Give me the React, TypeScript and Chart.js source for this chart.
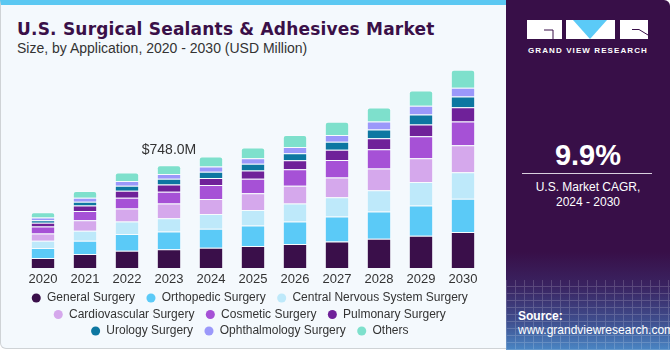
import React, { useEffect, useRef } from "react";
import { Chart, registerables } from "chart.js";

Chart.register(...registerables);

const years = ["2020", "2021", "2022", "2023", "2024", "2025", "2026", "2027", "2028", "2029", "2030"];
const generalSurgery = [72.4, 101.4, 125.5, 135.2, 147.3, 159.3, 173.8, 193.1, 212.4, 234.2, 260.7];
const orthopedicSurgery = [72.4, 96.6, 120.7, 130.4, 137.6, 149.7, 164.2, 181.0, 197.9, 219.7, 243.8];
const cnsSurgery = [53.1, 72.4, 91.7, 96.6, 108.6, 113.5, 130.4, 140.0, 154.5, 171.4, 193.1];
const cardiovascularSurgery = [53.1, 77.2, 94.1, 106.2, 108.6, 120.7, 130.4, 144.8, 159.3, 173.8, 195.5];
const cosmeticSurgery = [50.7, 67.6, 79.7, 86.9, 101.4, 106.2, 120.7, 127.9, 140.0, 159.3, 173.8];
const pulmonarySurgery = [26.6, 38.6, 50.7, 53.1, 50.7, 60.4, 65.2, 74.8, 79.7, 86.9, 103.8];
const urologySurgery = [19.3, 29.0, 36.2, 41.0, 45.9, 48.3, 50.7, 57.9, 65.2, 72.4, 77.2];
const ophthalmologySurgery = [19.3, 29.0, 33.8, 33.8, 38.6, 41.0, 45.9, 48.3, 57.9, 62.8, 65.2];
const others = [38.6, 48.3, 62.8, 64.8, 72.4, 77.2, 86.9, 96.6, 101.4, 111.0, 130.4];

const seriesNames = [
  "General Surgery",
  "Orthopedic Surgery",
  "Central Nervous System Surgery",
  "Cardiovascular Surgery",
  "Cosmetic Surgery",
  "Pulmonary Surgery",
  "Urology Surgery",
  "Ophthalmology Surgery",
  "Others",
];
const seriesValues = [
  generalSurgery,
  orthopedicSurgery,
  cnsSurgery,
  cardiovascularSurgery,
  cosmeticSurgery,
  pulmonarySurgery,
  urologySurgery,
  ophthalmologySurgery,
  others,
];
const seriesColors = [
  "#3a0f4a",
  "#5bcaf7",
  "#bee9fa",
  "#d5a8ec",
  "#a651d6",
  "#6f2199",
  "#0d77a1",
  "#9b98fa",
  "#7ee0cc",
];

const highlightYear = "2023";
const highlightLabel = "$748.0M";

const FONT = "'Liberation Sans', Arial, sans-serif";

const valueLabelPlugin = {
  id: "valueLabel",
  afterDatasetsDraw(chart: any) {
    const idx = chart.data.labels.indexOf(highlightYear);
    if (idx < 0) return;
    const meta = chart.getDatasetMeta(chart.data.datasets.length - 1);
    const el = meta.data[idx];
    if (!el) return;
    const ctx = chart.ctx;
    ctx.save();
    ctx.font = `14px ${FONT}`;
    ctx.fillStyle = "#333333";
    ctx.textAlign = "center";
    ctx.textBaseline = "alphabetic";
    ctx.fillText(highlightLabel, el.x, el.y - 11);
    ctx.restore();
  },
};

function BarChart() {
  const ref = useRef<HTMLCanvasElement | null>(null);
  useEffect(() => {
    if (!ref.current) return;
    const chart = new Chart(ref.current, {
      type: "bar",
      data: {
        labels: years,
        datasets: seriesNames.map((name, i) => ({
          label: name,
          data: seriesValues[i],
          backgroundColor: seriesColors[i],
          borderColor: "rgba(255,255,255,0.3)",
          borderWidth: 1,
          borderSkipped: "start",
          borderRadius: i === seriesNames.length - 1 ? { topLeft: 3, topRight: 3, bottomLeft: 0, bottomRight: 0 } : 0,
          categoryPercentage: 1,
          barPercentage: 0.58,
        })),
      },
      options: {
        animation: false,
        responsive: false,
        maintainAspectRatio: false,
        layout: { padding: { top: 7, left: 12, right: 16, bottom: 0 } },
        scales: {
          x: {
            stacked: true,
            grid: { display: false, drawTicks: false },
            border: { display: false },
            ticks: { color: "#333333", font: { size: 13, family: FONT }, padding: 4 },
            afterFit(scale: any) {
              scale.height -= 4;
            },
          },
          y: {
            stacked: true,
            display: false,
            min: 0,
            max: 1500,
          },
        },
        plugins: {
          tooltip: { enabled: false },
          legend: {
            position: "bottom",
            labels: {
              usePointStyle: true,
              pointStyle: "circle",
              boxWidth: 9.5,
              boxHeight: 6.4,
              padding: 4.5,
              color: "#333333",
              font: { size: 12, family: FONT },
              generateLabels(chart: any) {
                return chart.data.datasets.map((ds: any, i: number) => ({
                  text: ds.label + "  ",
                  fillStyle: ds.backgroundColor,
                  strokeStyle: ds.backgroundColor,
                  lineWidth: 0,
                  pointStyle: "circle",
                  hidden: false,
                  datasetIndex: i,
                  fontColor: "#333333",
                }));
              },
            },
          },
        },
      },
      plugins: [valueLabelPlugin],
    } as any);
    return () => chart.destroy();
  }, []);
  return (
    <canvas
      ref={ref}
      width={490}
      height={292}
      style={{ position: "absolute", left: 10, top: 55, width: 490, height: 292 }}
    />
  );
}

function Logo() {
  return (
    <svg width="130" height="22" viewBox="0 0 130 22" style={{ position: "absolute", left: 522, top: 19 }}>
      <rect x="5" y="1" width="35" height="19" fill="#ffffff" />
      <path d="M22 11 H31 V20" stroke="#380f48" strokeWidth="1" fill="none" />
      <rect x="44" y="1" width="49" height="19" fill="#ffffff" />
      <polygon points="51,1 85,1 68,20" fill="#5bcaf7" />
      <rect x="98" y="1" width="28" height="19" fill="#ffffff" />
      <path d="M110 10.5 H117 L126 16" stroke="#380f48" strokeWidth="1" fill="none" />
    </svg>
  );
}

export default function App() {
  return (
    <div
      style={{
        position: "fixed",
        left: 0,
        top: 0,
        width: 670,
        height: 350,
        background: "#ffffff",
        overflow: "hidden",
        fontFamily: FONT,
      }}
    >
      <div
        style={{
          position: "absolute",
          left: 0,
          top: 0,
          width: 520,
          height: 349,
          boxSizing: "border-box",
          background: "#f4f9fd",
          border: "1px solid #cfd3d6",
          borderTop: "5px solid #5bc8f2",
          borderRadius: "0 0 0 6px",
        }}
      />
      <div
        style={{
          position: "absolute",
          left: 17,
          top: 19,
          fontFamily: "'DejaVu Sans', sans-serif",
          fontWeight: 700,
          fontSize: 17,
          letterSpacing: 0.2,
          color: "#3a1048",
          whiteSpace: "nowrap",
          lineHeight: "20px",
        }}
      >
        U.S. Surgical Sealants &amp; Adhesives Market
      </div>
      <div
        style={{
          position: "absolute",
          left: 17,
          top: 40,
          fontSize: 14,
          color: "#333333",
          whiteSpace: "nowrap",
          lineHeight: "16px",
        }}
      >
        Size, by Application, 2020 - 2030 (USD Million)
      </div>
      <BarChart />
      <div
        style={{
          position: "absolute",
          left: 506,
          top: 0,
          width: 164,
          height: 350,
          borderRadius: "0 6px 0 0",
          background:
            "linear-gradient(to bottom, #380f48 0%, #380f48 72%, #3a2462 82%, #3f4f8f 92%, #4a86c4 100%)",
          overflow: "hidden",
        }}
      >
        <div
          style={{
            position: "absolute",
            left: 0,
            top: 280,
            width: 164,
            height: 70,
            opacity: 0.18,
            backgroundImage:
              "repeating-linear-gradient(90deg, rgba(255,255,255,0.9) 0px, rgba(255,255,255,0.9) 1px, transparent 1px, transparent 9px), repeating-linear-gradient(0deg, rgba(255,255,255,0.9) 0px, rgba(255,255,255,0.9) 1px, transparent 1px, transparent 7px)",
          }}
        />
      </div>
      <Logo />
      <div
        style={{
          position: "absolute",
          left: 506,
          width: 164,
          top: 46,
          textAlign: "center",
          color: "#ffffff",
          fontWeight: 700,
          fontSize: 8,
          letterSpacing: 1.1,
          lineHeight: "10px",
          whiteSpace: "nowrap",
        }}
      >
        GRAND VIEW RESEARCH
      </div>
      <div
        style={{
          position: "absolute",
          left: 506,
          width: 164,
          top: 138,
          textAlign: "center",
          color: "#ffffff",
          fontWeight: 700,
          fontSize: 29,
          lineHeight: "34px",
        }}
      >
        9.9%
      </div>
      <div
        style={{
          position: "absolute",
          left: 522,
          top: 173,
          width: 130,
          height: 1,
          background: "#d8d0de",
        }}
      />
      <div
        style={{
          position: "absolute",
          left: 506,
          width: 164,
          top: 180,
          textAlign: "center",
          color: "#ffffff",
          fontSize: 12,
          lineHeight: "14.5px",
        }}
      >
        U.S. Market CAGR,
        <br />
        2024 - 2030
      </div>
      <div
        style={{
          position: "absolute",
          left: 518,
          top: 309,
          color: "#ffffff",
          fontSize: 12,
          lineHeight: "14px",
          whiteSpace: "nowrap",
        }}
      >
        <b>Source:</b>
        <br />
        www.grandviewresearch.com
      </div>
    </div>
  );
}
